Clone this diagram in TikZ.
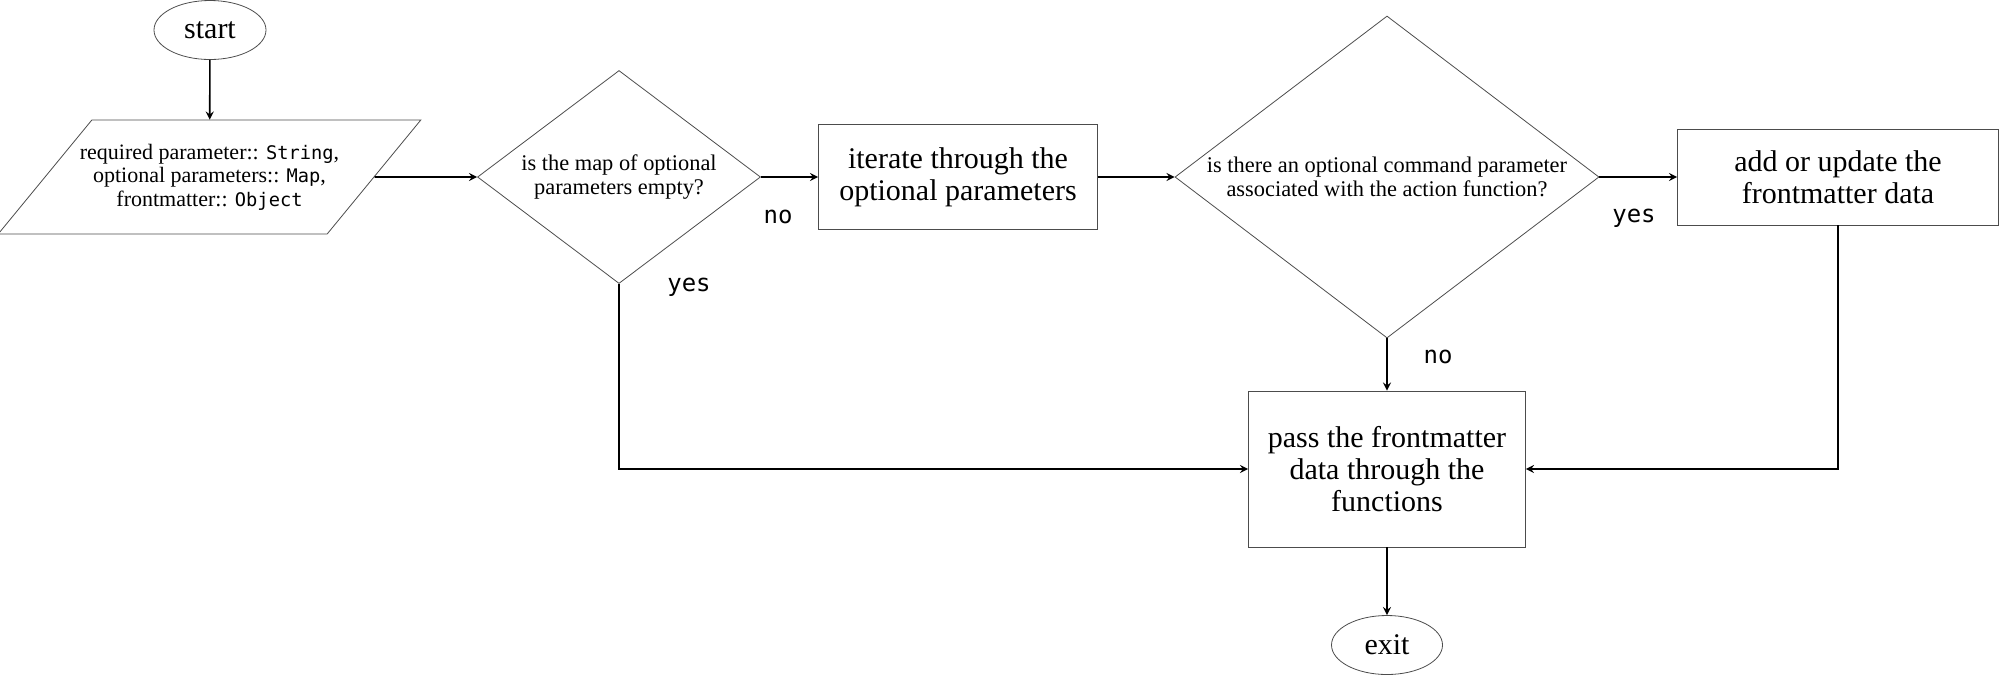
\documentclass[tikz,border=0pt]{standalone}
\usepackage{fontspec}
\setmainfont{Liberation Serif}
\setmonofont[Scale=0.85]{DejaVu Sans Mono}
\usetikzlibrary{shapes.geometric}

\begin{document}
\begin{tikzpicture}[x=0.5pt,y=-0.5pt,>=stealth]
\tikzstyle{terminal}=[ellipse,draw=black!70,minimum width=56pt,minimum height=29.5pt,inner sep=0pt,font=\fontsize{15}{17}\selectfont]
\tikzstyle{io}=[trapezium,trapezium left angle=50.6,trapezium right angle=129.4,trapezium stretches body,draw=black!70,inner xsep=-6pt,inner ysep=12pt,align=center,font=\fontsize{11}{11.7}\selectfont]
\tikzstyle{decision}=[diamond,draw=black!70,inner sep=-3pt,align=center,font=\fontsize{11.2}{12.3}\selectfont]
\tikzstyle{process}=[rectangle,draw=black!70,inner sep=0pt,align=center,font=\fontsize{15}{16}\selectfont]
\tikzstyle{flow}=[->,thick]
\tikzstyle{answer}=[font=\ttfamily\fontsize{14.1}{16}\selectfont]
\useasboundingbox (0,0) rectangle (2001,676);
\node [terminal] (start) at (210,30) {start};
\node [io] (input) at (209.5,177) {required parameter:: \texttt{String},\\optional parameters:: \texttt{Map},\\frontmatter:: \texttt{Object}};
\node [decision,aspect=1.33,minimum width=141.5pt,minimum height=106.5pt] (empty) at (619,177) {is the map of optional\\parameters empty?};
\node [process,minimum width=139.5pt,minimum height=52.5pt] (iterate) at (958,177) {iterate through the\\optional parameters};
\node [decision,aspect=1.317,minimum width=212pt,minimum height=161pt] (assoc) at (1387,177) {is there an optional command parameter\\associated with the action function?};
\node [process,minimum width=160.5pt,minimum height=48pt] (update) at (1838,177) {add or update the\\frontmatter data};
\node [process,minimum width=138.5pt,minimum height=78pt] (pass) at (1387,469) {pass the frontmatter\\data through the\\functions};
\node [terminal,minimum width=55.5pt] (exit) at (1387,645) {exit};
\node [answer] (emptyno) at (778,217) {no};
\node [answer] (emptyyes) at (689,287) {yes};
\node [answer] (assocyes) at (1634,218) {yes};
\node [answer] (assocno) at (1438,357) {no};
\draw [flow] (start) -- (input);
\draw [flow] (input.east) -- (empty.west);
\draw [flow] (empty.east) -- (iterate.west);
\draw [flow] (iterate.east) -- (assoc.west);
\draw [flow] (assoc.east) -- (update.west);
\draw [flow] (assoc.south) -- (pass.north);
\draw [flow] (empty.south) |- (pass.west);
\draw [flow] (update.south) |- (pass.east);
\draw [flow] (pass) -- (exit);
\end{tikzpicture}
\end{document}
